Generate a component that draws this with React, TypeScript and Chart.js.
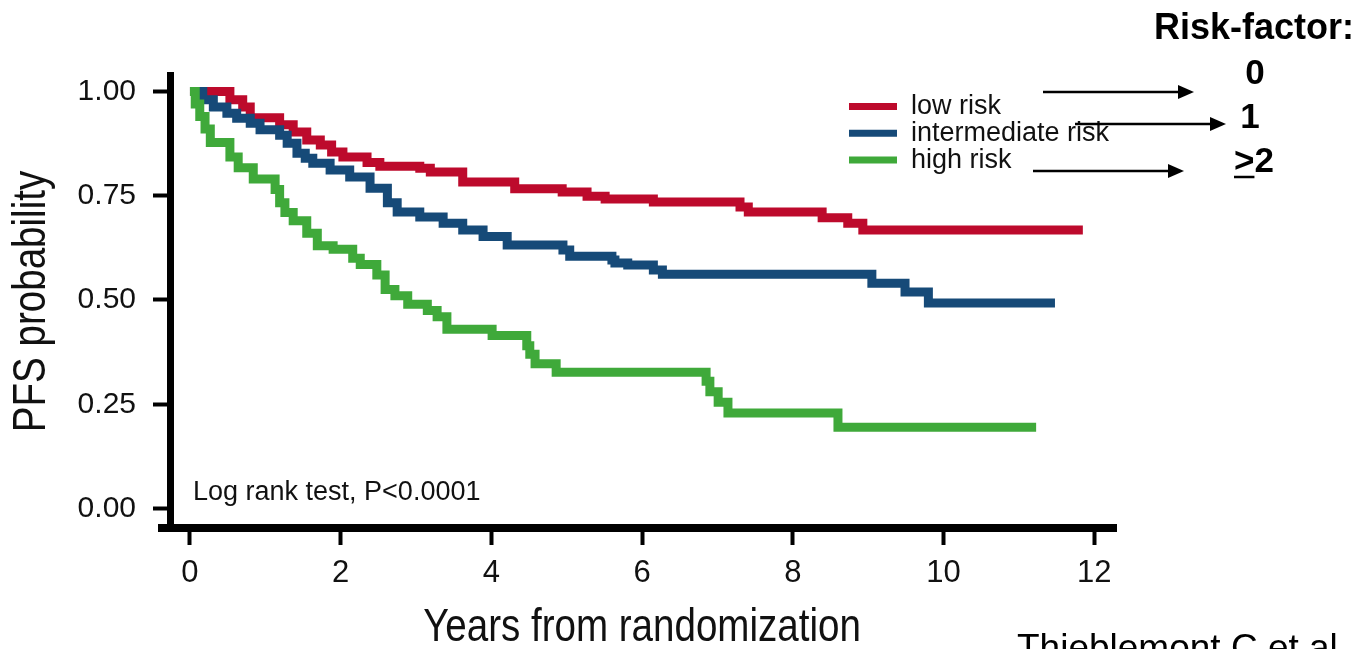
import React, { useEffect, useRef } from "react";
import { Chart, registerables } from "chart.js";

Chart.register(...registerables);

// ---- Data ----
const seriesLabels = ["low risk", "intermediate risk", "high risk"];
const seriesColors = ["#bd0a2c", "#164a78", "#3fa93a"];

const lowRiskYears = [0, 0.53, 0.70, 0.80, 1.19, 1.37, 1.55, 1.73, 1.88, 2.03, 2.35, 2.52, 3.05, 3.19, 3.62, 4.31, 4.94, 5.27, 5.51, 6.15, 7.30, 7.41, 8.39, 8.73, 8.93, 11.85];
const lowRiskPFS = [1, 0.98, 0.963, 0.937, 0.92, 0.903, 0.884, 0.872, 0.855, 0.843, 0.83, 0.821, 0.816, 0.807, 0.783, 0.767, 0.759, 0.749, 0.742, 0.735, 0.723, 0.711, 0.697, 0.684, 0.668, 0.668];

const intermediateRiskYears = [0, 0.17, 0.31, 0.49, 0.62, 0.80, 0.93, 1.19, 1.29, 1.42, 1.53, 1.63, 1.86, 2.12, 2.39, 2.62, 2.75, 3.05, 3.36, 3.62, 3.89, 4.21, 4.95, 5.04, 5.60, 5.64, 5.81, 6.15, 6.27, 9.05, 9.49, 9.80, 11.48];
const intermediateRiskPFS = [1, 0.98, 0.963, 0.948, 0.936, 0.924, 0.908, 0.895, 0.876, 0.852, 0.84, 0.828, 0.812, 0.795, 0.768, 0.733, 0.711, 0.699, 0.684, 0.668, 0.652, 0.632, 0.62, 0.605, 0.596, 0.589, 0.584, 0.572, 0.562, 0.54, 0.519, 0.493, 0.493];

const highRiskYears = [0, 0.07, 0.13, 0.20, 0.27, 0.53, 0.64, 0.84, 1.13, 1.19, 1.26, 1.37, 1.55, 1.69, 1.90, 2.16, 2.26, 2.48, 2.59, 2.72, 2.89, 3.15, 3.28, 3.41, 4.01, 4.47, 4.51, 4.58, 4.86, 6.85, 6.90, 7.01, 7.14, 8.60, 11.23];
const highRiskPFS = [1, 0.97, 0.94, 0.91, 0.878, 0.843, 0.817, 0.79, 0.765, 0.733, 0.71, 0.69, 0.66, 0.63, 0.622, 0.60, 0.585, 0.56, 0.525, 0.51, 0.49, 0.475, 0.46, 0.43, 0.415, 0.39, 0.37, 0.347, 0.327, 0.305, 0.28, 0.255, 0.229, 0.195, 0.195];

const xTickValues = [0, 2, 4, 6, 8, 10, 12];
const yTickValues = [0, 0.25, 0.5, 0.75, 1];
const xTitle = "Years from randomization";
const yTitle = "PFS probability";
const testNote = "Log rank test, P<0.0001";
const riskHeader = "Risk-factor:";
const riskLevels = ["0", "1", ">2"];
const citation = "Thieblemont C et al";

const SANS = "'Liberation Sans', Arial, sans-serif";

function drawArrow(ctx: CanvasRenderingContext2D, x1: number, x2: number, y: number) {
  const head = 16;
  ctx.strokeStyle = "#000";
  ctx.fillStyle = "#000";
  ctx.lineWidth = 2.5;
  ctx.beginPath();
  ctx.moveTo(x1, y);
  ctx.lineTo(x2 - head + 1, y);
  ctx.stroke();
  ctx.beginPath();
  ctx.moveTo(x2, y);
  ctx.lineTo(x2 - head, y - 7);
  ctx.lineTo(x2 - head, y + 7);
  ctx.closePath();
  ctx.fill();
}

// condensed (Arial-Narrow-like) text: regular sans squeezed horizontally
function drawNarrow(ctx: CanvasRenderingContext2D, text: string, x: number, y: number, rotate: boolean) {
  ctx.save();
  ctx.translate(x, y);
  if (rotate) ctx.rotate(-Math.PI / 2);
  ctx.scale(0.82, 1);
  ctx.font = `47px ${SANS}`;
  ctx.fillStyle = "#111";
  ctx.textAlign = "center";
  ctx.textBaseline = "middle";
  ctx.fillText(text, 0, 0);
  ctx.restore();
}

const annotationPlugin = {
  id: "kmAnnotations",
  afterDraw(chart: any) {
    const ctx: CanvasRenderingContext2D = chart.ctx;
    const area = chart.chartArea;
    ctx.save();

    // x-axis line extends slightly left of the y axis
    ctx.strokeStyle = "#000";
    ctx.lineWidth = 8;
    ctx.beginPath();
    ctx.moveTo(area.left - 12, area.bottom);
    ctx.lineTo(area.left, area.bottom);
    ctx.stroke();

    // axis titles
    drawNarrow(ctx, xTitle, (area.left + area.right) / 2 - 1, 628, false);
    drawNarrow(ctx, yTitle, 32, (area.top + area.bottom) / 2, true);

    // legend
    chart.data.datasets.forEach((ds: any, i: number) => {
      const y = 106.5 + i * 26.8;
      ctx.strokeStyle = ds.borderColor;
      ctx.lineWidth = 7;
      ctx.beginPath();
      ctx.moveTo(849, y);
      ctx.lineTo(897, y);
      ctx.stroke();
      ctx.fillStyle = "#111";
      ctx.font = `27px ${SANS}`;
      ctx.textAlign = "left";
      ctx.textBaseline = "middle";
      ctx.fillText(ds.label, 911, y);
    });

    // log-rank note
    ctx.fillStyle = "#111";
    ctx.font = `27px ${SANS}`;
    ctx.textAlign = "left";
    ctx.textBaseline = "alphabetic";
    ctx.fillText(testNote, 193, 500);

    // risk factor header and levels
    ctx.fillStyle = "#000";
    ctx.strokeStyle = "#000";
    ctx.font = `bold 36px ${SANS}`;
    ctx.fillText(riskHeader, 1154, 39);
    ctx.font = `bold 35px ${SANS}`;
    ctx.textAlign = "center";
    ctx.fillText(riskLevels[0], 1255, 84);
    ctx.fillText(riskLevels[1], 1250, 128);
    ctx.textAlign = "left";
    ctx.fillText(riskLevels[2], 1234, 172);
    const gtW = ctx.measureText(riskLevels[2].charAt(0)).width;
    ctx.lineWidth = 2.5;
    ctx.beginPath();
    ctx.moveTo(1234, 177);
    ctx.lineTo(1234 + gtW, 177);
    ctx.stroke();

    // arrows
    drawArrow(ctx, 1043, 1194, 92);
    drawArrow(ctx, 1075, 1226, 124);
    drawArrow(ctx, 1033, 1184, 171);

    // citation (cut by the page edge)
    ctx.font = `37px ${SANS}`;
    ctx.textAlign = "left";
    ctx.fillStyle = "#000";
    ctx.fillText(citation, 1017, 660);

    ctx.restore();
  },
};

function makeSeries(xs: number[], ys: number[]) {
  return xs.map((x, i) => ({ x, y: ys[i] }));
}

export default function App() {
  const canvasRef = useRef<HTMLCanvasElement | null>(null);

  useEffect(() => {
    if (!canvasRef.current) return;
    const seriesData = [
      makeSeries(lowRiskYears, lowRiskPFS),
      makeSeries(intermediateRiskYears, intermediateRiskPFS),
      makeSeries(highRiskYears, highRiskPFS),
    ];
    const chart = new Chart(canvasRef.current, {
      type: "line",
      data: {
        datasets: seriesLabels.map((label, i) => ({
          label,
          data: seriesData[i],
          borderColor: seriesColors[i],
          backgroundColor: seriesColors[i],
          borderWidth: 9,
          stepped: true,
          pointRadius: 0,
          fill: false,
          borderCapStyle: "butt",
          borderJoinStyle: "miter",
          order: 3 - i,
        })),
      },
      options: {
        responsive: false,
        animation: false,
        devicePixelRatio: 1,
        layout: { padding: { top: 75, right: 248, bottom: 0, left: 0 } },
        plugins: { legend: { display: false }, tooltip: { enabled: false }, title: { display: false } },
        scales: {
          x: {
            type: "linear",
            min: -0.265,
            max: 12.29,
            afterBuildTicks: (scale: any) => {
              scale.ticks = xTickValues.map((v) => ({ value: v }));
            },
            afterFit: (scale: any) => {
              scale.height = 121;
            },
            border: { display: true, color: "#000", width: 8 },
            grid: { display: true, drawOnChartArea: false, drawTicks: true, tickLength: 17, tickWidth: 4, tickColor: "#000" },
            ticks: {
              padding: 10,
              color: "#111",
              font: { family: SANS, size: 31 },
              maxRotation: 0,
              autoSkip: false,
              callback: (v: any) => String(v),
            },
            title: { display: false },
          },
          y: {
            type: "linear",
            min: -0.0468,
            max: 1.0396,
            afterBuildTicks: (scale: any) => {
              scale.ticks = yTickValues.map((v) => ({ value: v }));
            },
            afterFit: (scale: any) => {
              scale.width = 170;
            },
            border: { display: true, color: "#000", width: 7 },
            grid: { display: true, drawOnChartArea: false, drawTicks: true, tickLength: 17, tickWidth: 4, tickColor: "#000" },
            ticks: {
              padding: 17,
              color: "#111",
              font: { family: SANS, size: 30 },
              autoSkip: false,
              callback: (v: any) => Number(v).toFixed(2),
            },
            title: { display: false },
          },
        },
      },
      plugins: [annotationPlugin],
    } as any);
    return () => chart.destroy();
  }, []);

  return (
    <div style={{ position: "absolute", left: 0, top: 0, width: 1364, height: 649, background: "#fff", overflow: "hidden" }}>
      <canvas ref={canvasRef} width={1364} height={649} style={{ display: "block", width: 1364, height: 649 }} />
    </div>
  );
}
